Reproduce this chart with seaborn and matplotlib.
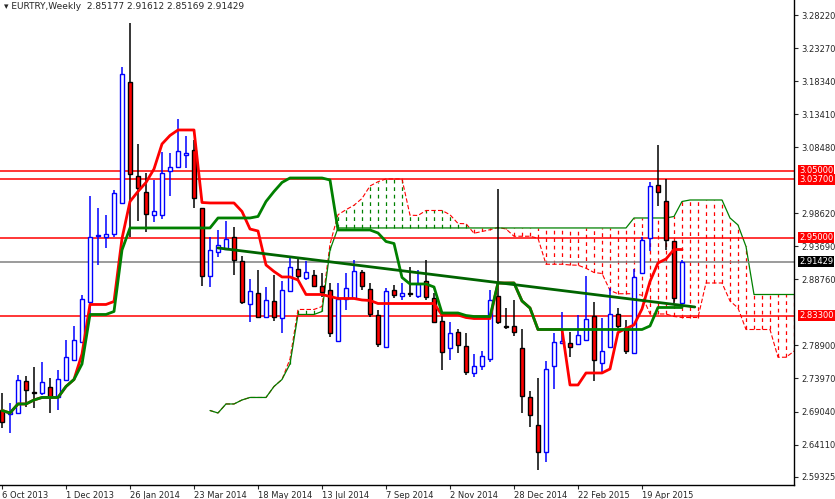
import numpy as np
import pandas as pd
import matplotlib
matplotlib.use("Agg")
import matplotlib.pyplot as plt
import seaborn as sns

opens = [2.6927,2.686,2.6882,2.7360,2.720,2.718,2.7270,2.7121,2.7374,2.7673,2.7942,2.8539,2.9524,2.9509,2.9554,3.0016,
         3.1822,3.0419,3.0180,2.9837,2.9837,3.0494,3.0554,3.0733,3.0807,2.9942,2.8927,2.9285,2.9330,2.9509,2.9151,2.8509,
         2.8673,2.8315,2.8554,2.8300,2.8703,2.9031,2.8897,2.8942,2.8777,2.8718,2.7957,2.8584,2.8598,2.8987,2.8733,2.8345,
         2.7867,2.8718,2.8628,2.8673,2.8628,2.8852,2.8598,2.8255,2.7852,2.8091,2.7882,2.7479,2.7584,2.7688,2.8628,2.8180,
         2.8180,2.7852,2.7121,2.6703,2.6300,2.7584,2.7927,2.7927,2.7912,2.7972,2.8330,2.7628,2.7867,2.8360,2.8151,2.7777,
         2.8971,2.9494,3.0285,3.0046,2.9449,2.85177]
highs = [2.7180,2.7031,2.7449,2.7434,2.7568,2.7643,2.7404,2.7524,2.7971,2.8180,2.8643,3.0121,2.9942,2.9837,3.0210,3.2046,
         3.2703,3.0897,3.0464,3.0360,3.0777,3.0762,3.1270,3.1016,3.0956,2.9942,2.9509,2.9613,2.9748,2.9658,2.9225,2.8882,
         2.9016,2.8763,2.8942,2.8852,2.9225,2.9180,2.9151,2.9016,2.8972,2.8822,2.8822,2.8972,2.9165,2.9016,2.8822,2.8419,
         2.8748,2.8792,2.8822,2.9061,2.9016,2.9165,2.8673,2.8345,2.8240,2.8136,2.8076,2.7762,2.7807,2.8718,3.0225,2.8449,
         2.8569,2.8136,2.7210,2.7404,2.7658,2.8076,2.8389,2.8091,2.8345,2.8927,2.8539,2.8300,2.8748,2.8449,2.8270,2.9031,
         2.9509,3.0330,3.0882,3.0374,2.9449,2.91612]
lows = [2.6658,2.6584,2.6882,2.6972,2.6957,2.7150,2.6882,2.6927,2.7374,2.7673,2.7942,2.8345,2.9091,2.9345,2.9509,3.0016,
        2.9509,2.9748,2.9583,2.9733,2.9777,3.0121,3.0539,3.0539,2.9942,2.8777,2.8763,2.9210,2.9315,2.8942,2.8509,2.8240,
        2.8315,2.8300,2.8255,2.8076,2.8703,2.8867,2.8867,2.8763,2.8613,2.8016,2.7957,2.8419,2.8598,2.8718,2.8315,2.7867,
        2.7867,2.8598,2.8569,2.8613,2.8600,2.8569,2.8225,2.7524,2.7673,2.7778,2.7449,2.7419,2.7524,2.7643,2.8210,2.8136,
        2.8031,2.6882,2.6673,2.6031,2.6151,2.7240,2.7927,2.7718,2.7900,2.7950,2.7360,2.7479,2.7860,2.8150,2.7762,2.7777,
        2.8960,2.9300,2.9972,2.9315,2.8524,2.85169]
closes = [2.6748,2.689,2.7374,2.7225,2.718,2.7345,2.7121,2.7389,2.7718,2.7971,2.8584,2.9509,2.9539,2.9554,3.0165,3.1942,
          3.0449,3.0240,2.9852,2.9897,3.0464,3.0554,3.0792,3.0762,3.0091,2.8927,2.9315,2.9389,2.9479,2.9166,2.8539,2.8703,
          2.8315,2.8569,2.8315,2.8718,2.9061,2.8927,2.8987,2.8777,2.8688,2.8076,2.8584,2.8748,2.9001,2.8777,2.8360,2.7912,
          2.8703,2.8643,2.8673,2.8660,2.8807,2.8613,2.8240,2.7793,2.8076,2.7897,2.7494,2.7584,2.7733,2.8569,2.8240,2.8160,
          2.8091,2.7136,2.6851,2.6300,2.7539,2.7942,2.7957,2.7867,2.8046,2.8285,2.7673,2.7807,2.8360,2.8180,2.7807,2.8912,
          2.9464,3.0270,3.0180,2.9464,2.8598,2.91429]

date_labels = ["6 Oct 2013","1 Dec 2013","26 Jan 2014","23 Mar 2014","18 May 2014","13 Jul 2014",
               "7 Sep 2014","2 Nov 2014","28 Dec 2014","22 Feb 2015","19 Apr 2015"]
date_idx = [0,8,16,24,32,40,48,56,64,72,80]
price_ticks = [3.28220,3.23270,3.18340,3.13410,3.08480,2.98620,2.93690,2.88760,2.78900,2.73970,2.69040,2.64110,2.59325]
red_levels = [3.05000,3.03700,2.95000,2.83300]
trend_x = [27, 86.6]
trend_y = [2.9345, 2.8464]

df = pd.DataFrame({"o":opens,"h":highs,"l":lows,"c":closes})
n = len(df)
df["i"] = np.arange(n)
tenkan = (df.h.rolling(9,min_periods=1).max()+df.l.rolling(9,min_periods=1).min())/2
kijun = (df.h.rolling(26,min_periods=1).max()+df.l.rolling(26,min_periods=1).min())/2
spanA = (tenkan+kijun)/2
spanB = (df.h.rolling(52,min_periods=1).max()+df.l.rolling(52,min_periods=1).min())/2
cx = np.arange(n)+26

sns.set_style("white")
fig = plt.figure(figsize=(8.35,4.99), dpi=100)
ax = fig.add_axes([0, 14/499, 794/835, 485/499])
ax.set_xlim(-0.25, 99)
ax.set_ylim(2.5807, 3.3046)

for x,a,b in zip(cx, spanA, spanB):
    col = "green" if a >= b else "red"
    ax.vlines(x, min(a,b), max(a,b), colors=col, linestyles=(0,(3,3)), lw=0.9, zorder=1)
ax.plot(cx, spanA, color="red", lw=0.8, ls=(0,(4,2)), zorder=1)
ax.plot(cx, spanB, color="green", lw=0.9, zorder=1)

for lv in red_levels:
    ax.axhline(lv, color="red", lw=1.1, zorder=2)
ax.axhline(closes[-1], color="gray", lw=1.1, zorder=2)

up = df.c >= df.o
ax.vlines(df.i[up], df.l[up], df.h[up], colors="blue", lw=1.1, zorder=3)
ax.vlines(df.i[~up], df.l[~up], df.h[~up], colors="black", lw=1.1, zorder=3)
body_lo = np.minimum(df.o, df.c); body_h = np.maximum(np.abs(df.c-df.o), 0.0012)
ax.bar(df.i[up], body_h[up], bottom=body_lo[up], width=0.55, color="white", edgecolor="blue", lw=1.0, zorder=4)
ax.bar(df.i[~up], body_h[~up], bottom=body_lo[~up], width=0.55, color="red", edgecolor="black", lw=1.0, zorder=4)

sns.lineplot(x=df.i, y=tenkan, ax=ax, color="red", lw=2, zorder=5)
sns.lineplot(x=df.i, y=kijun, ax=ax, color="green", lw=2, zorder=5)
ax.plot(trend_x, trend_y, color="#006400", lw=2, zorder=5)

ax.set_xlabel(""); ax.set_ylabel("")
for s in ["top","left"]:
    ax.spines[s].set_visible(False)
for s in ["right","bottom"]:
    ax.spines[s].set_color("black"); ax.spines[s].set_linewidth(1)
ax.yaxis.tick_right()
ax.set_yticks(price_ticks)
ax.set_yticklabels([f"{v:.5f}" for v in price_ticks], fontsize=6)
ax.tick_params(axis="y", length=3, pad=2, right=True)
ax.set_xticks(date_idx)
ax.set_xticklabels(date_labels, fontsize=6, ha="left")
ax.tick_params(axis="x", length=3, pad=1, bottom=True)

for lv in red_levels:
    ax.text(1.0065, lv, f"{lv:.5f}", transform=ax.get_yaxis_transform(), fontsize=6, color="white",
            va="center", ha="left", bbox=dict(boxstyle="square,pad=0.12", fc="red", ec="none"), zorder=10)
ax.text(1.0065, closes[-1], f"{closes[-1]:.5f}", transform=ax.get_yaxis_transform(), fontsize=6, color="white",
        va="center", ha="left", bbox=dict(boxstyle="square,pad=0.12", fc="black", ec="none"), zorder=10)
ax.text(0.005, 0.995, "▾ EURTRY,Weekly  2.85177 2.91612 2.85169 2.91429", transform=ax.transAxes,
        fontsize=6.5, va="top", ha="left")
fig.savefig("out.png", dpi=100)
